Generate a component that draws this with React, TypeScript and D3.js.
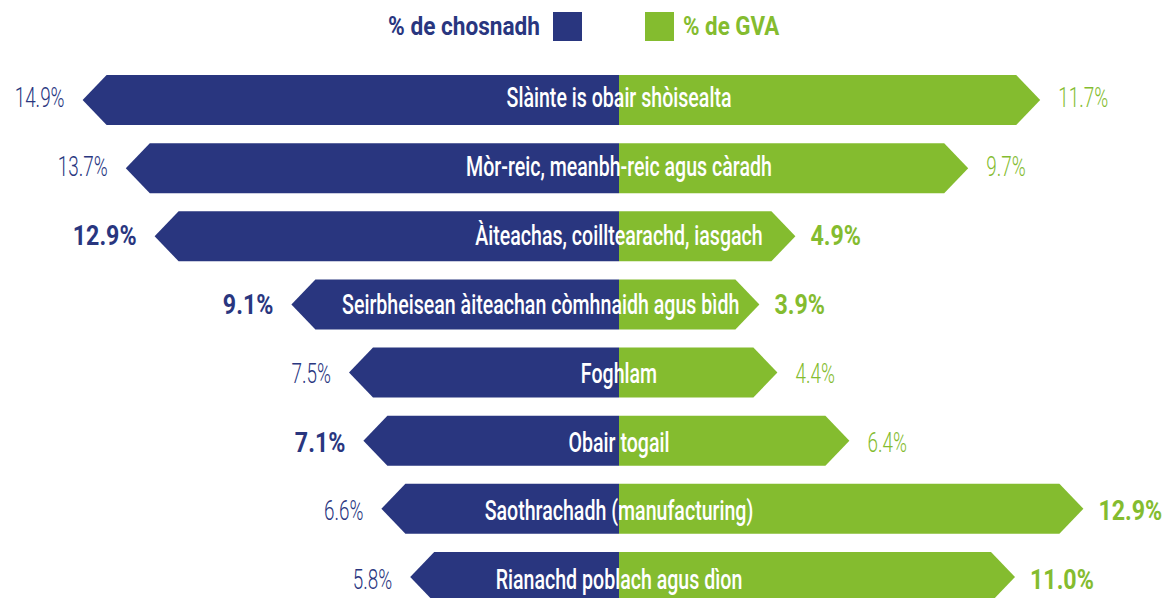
import React from "react";
import * as d3 from "d3";

const categories = [
  "Slàinte is obair shòisealta",
  "Mòr-reic, meanbh-reic agus càradh",
  "Àiteachas, coilltearachd, iasgach",
  "Seirbheisean àiteachan còmhnaidh agus bìdh",
  "Foghlam",
  "Obair togail",
  "Saothrachadh (manufacturing)",
  "Rianachd poblach agus dìon",
];
const employment = [14.9, 13.7, 12.9, 9.1, 7.5, 7.1, 6.6, 5.8];
const gva = [11.7, 9.7, 4.9, 3.9, 4.4, 6.4, 12.9, 11.0];
const employmentBold = [false, false, true, true, false, true, false, false];
const gvaBold = [false, false, true, true, false, false, true, true];
const legendLabels = ["% de chosnadh", "% de GVA"];

const W = 1166;
const H = 598;
const BLUE = "#29367f";
const GREEN = "#84bc2f";
const CX = 619;
const BAR_H = 50;
const TIP = 24;
const FONT = "Roboto, 'Liberation Sans', sans-serif";
const CAT_SIZE = 28;
const CAT_SCALE = 0.7;

let measureCtx: CanvasRenderingContext2D | null = null;
function measure(text: string): number {
  if (typeof document === "undefined") return text.length * 10;
  if (!measureCtx) {
    const c = document.createElement("canvas");
    measureCtx = c.getContext("2d");
  }
  if (!measureCtx) return text.length * 10;
  measureCtx.font = `500 ${CAT_SIZE}px Roboto, 'Liberation Sans', sans-serif`;
  return measureCtx.measureText(text).width * CAT_SCALE;
}

export default function App() {
  const x = d3.scaleLinear().domain([0, 15]).range([0, 540]);
  const y = d3.scalePoint<string>().domain(categories).range([100, 577]);
  // text baselines drift slightly lower than bar centres in the reference
  const yText = d3.scalePoint<string>().domain(categories).range([107, 107 + 7 * 68.9]);

  const leftPath = (v: number, cy: number) => {
    const len = x(v);
    const t = cy - BAR_H / 2;
    const b = cy + BAR_H / 2;
    return `M${CX},${t}L${CX - len + TIP},${t}L${CX - len},${cy}L${CX - len + TIP},${b}L${CX},${b}Z`;
  };
  const rightPath = (v: number, cy: number) => {
    const len = x(v);
    const t = cy - BAR_H / 2;
    const b = cy + BAR_H / 2;
    return `M${CX},${t}L${CX + len - TIP},${t}L${CX + len},${cy}L${CX + len - TIP},${b}L${CX},${b}Z`;
  };

  return (
    <svg
      width={W}
      height={H}
      style={{ position: "absolute", left: 0, top: 0, display: "block" }}
      fontFamily={FONT}
    >
      <rect width={W} height={H} fill="#fff" />
      {/* legend */}
      <g>
        <text
          transform={`translate(540,35) scale(0.87,1)`}
          textAnchor="end"
          fontSize={26}
          fontWeight={700}
          fill={BLUE}
        >
          {legendLabels[0]}
        </text>
        <rect x={553} y={12} width={29} height={29} fill={BLUE} />
        <rect x={645} y={12} width={29} height={29} fill={GREEN} />
        <text
          transform={`translate(683,35) scale(0.86,1)`}
          textAnchor="start"
          fontSize={26}
          fontWeight={700}
          fill={GREEN}
        >
          {legendLabels[1]}
        </text>
      </g>
      {categories.map((c, i) => {
        const cy = y(c) as number;
        const ty = yText(c) as number;
        const le = x(employment[i]);
        const lg = x(gva[i]);
        const eb = employmentBold[i];
        const gb = gvaBold[i];
        const tw = measure(c);
        const tx = Math.min(CX, CX + lg - 20 - tw / 2);
        return (
          <g key={c}>
            <path d={leftPath(employment[i], cy)} fill={BLUE} />
            <path d={rightPath(gva[i], cy)} fill={GREEN} />
            <text
              transform={`translate(${tx},${ty}) scale(${CAT_SCALE},1)`}
              textAnchor="middle"
              fontSize={CAT_SIZE}
              fontWeight={500}
              fill="#fff"
            >
              {c}
            </text>
            <text
              transform={`translate(${CX - le - 18},${ty}) scale(${eb ? 0.86 : 0.7},1)`}
              textAnchor="end"
              fontSize={27}
              fontWeight={eb ? 700 : 300}
              fill={BLUE}
            >
              {employment[i].toFixed(1)}%
            </text>
            <text
              transform={`translate(${CX + lg + (gb ? 15 : 18)},${ty}) scale(${gb ? 0.86 : 0.7},1)`}
              textAnchor="start"
              fontSize={27}
              fontWeight={gb ? 700 : 300}
              fill={GREEN}
            >
              {gva[i].toFixed(1)}%
            </text>
          </g>
        );
      })}
    </svg>
  );
}
